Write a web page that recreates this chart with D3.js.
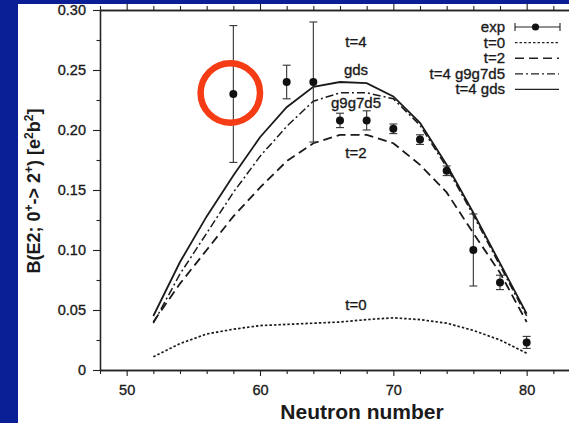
<!DOCTYPE html>
<html>
<head>
<meta charset="utf-8">
<script src="https://cdn.jsdelivr.net/npm/d3@7"></script>
<style>
  html, body { margin: 0; padding: 0; background: #0a1e96; }
  svg { display: block; }
  text { font-family: "Liberation Sans", Arial, Helvetica, sans-serif; fill: #1a1a1a; }
  .heavy { stroke: #1a1a1a; stroke-width: 0.35px; }
</style>
</head>
<body>
<script>
// Shell-model curves, evaluated at even neutron numbers
const neutrons = [52, 54, 56, 58, 60, 62, 64, 66, 68, 70, 72, 74, 76, 78, 80];
const t0      = [0.011, 0.022, 0.030, 0.034, 0.037, 0.038, 0.039, 0.040, 0.042, 0.0435, 0.042, 0.039, 0.033, 0.025, 0.014];
const t2      = [0.040, 0.072, 0.100, 0.128, 0.152, 0.174, 0.189, 0.196, 0.196, 0.189, 0.171, 0.148, 0.114, 0.081, 0.040];
const t4g9g7d5 = [0.039, 0.080, 0.114, 0.148, 0.178, 0.203, 0.224, 0.231, 0.231, 0.226, 0.204, 0.169, 0.129, 0.087, 0.045];
const t4gds   = [0.045, 0.090, 0.128, 0.162, 0.194, 0.219, 0.236, 0.240, 0.239, 0.228, 0.206, 0.171, 0.131, 0.089, 0.047];

// Measured B(E2) values with uncertainties
const expN   = [58, 62, 64, 66, 68, 70, 72, 74, 76, 78, 80];
const expB   = [0.230, 0.240, 0.240, 0.208, 0.208, 0.201, 0.192, 0.166, 0.100, 0.073, 0.023];
const expErr = [0.057, 0.014, 0.050, 0.006, 0.008, 0.004, 0.004, 0.004, 0.030, 0.006, 0.005];

// Axis ticks
const xMajorTicks = [50, 60, 70, 80];
const xMinorTicks = [48, 52, 54, 56, 58, 62, 64, 66, 68, 72, 74, 76, 78, 82, 84];
const yMajorTicks = [0, 0.05, 0.10, 0.15, 0.20, 0.25, 0.30];
const yTickLabels = ["0", "0.05", "0.10", "0.15", "0.20", "0.25", "0.30"];
const yMinorTicks = [0.025, 0.075, 0.125, 0.175, 0.225, 0.275];

// Highlighted measurement
const highlightN = 58;

const W = 569, H = 423;
const svg = d3.select("body").append("svg").attr("width", W).attr("height", H);

// white panel over the blue backdrop
svg.append("rect").attr("x", 18).attr("y", 4).attr("width", W - 18).attr("height", H - 4).attr("fill", "#ffffff");

const x = d3.scaleLinear().domain([48, 84]).range([100, 580]);
const y = d3.scaleLinear().domain([0, 0.30]).range([370, 10]);

const axisColor = "#222";

// bottom axis
const gB = svg.append("g").attr("transform", `translate(0,${y(0)})`);
gB.call(d3.axisBottom(x).tickValues(xMajorTicks).tickSize(6).tickSizeOuter(0).tickPadding(9));
gB.append("g").call(d3.axisBottom(x).tickValues(xMinorTicks).tickSize(4).tickSizeOuter(0).tickFormat(""));

// top axis
const gT = svg.append("g").attr("transform", `translate(0,${y(0.30)})`);
gT.call(d3.axisTop(x).tickValues(xMajorTicks).tickSize(6.5).tickSizeOuter(0).tickFormat(""));
gT.append("g").call(d3.axisTop(x).tickValues(xMinorTicks).tickSize(4).tickSizeOuter(0).tickFormat(""));

// left axis
const gL = svg.append("g").attr("transform", `translate(${x(48)},0)`);
gL.call(d3.axisLeft(y).tickValues(yMajorTicks).tickSize(7).tickSizeOuter(0).tickPadding(7)
  .tickFormat((d, i) => yTickLabels[i]));
gL.append("g").call(d3.axisLeft(y).tickValues(yMinorTicks).tickSize(3.5).tickSizeOuter(0).tickFormat(""));

svg.selectAll(".domain").attr("stroke", axisColor).attr("stroke-width", 1.3);
svg.selectAll(".tick line").attr("stroke", axisColor).attr("stroke-width", 1.1);
svg.selectAll(".tick text").attr("font-size", 14.5).attr("fill", "#1a1a1a").attr("class", "heavy")
  .attr("font-family", "'Liberation Sans', Arial, sans-serif");

// theory curves
const series = [
  { name: "t=0",         values: t0,       dash: "2.5,2",     width: 1.7 },
  { name: "t=2",         values: t2,       dash: "9,5",       width: 1.8 },
  { name: "t=4 g9g7d5",  values: t4g9g7d5, dash: "8,3,2,3",   width: 1.5 },
  { name: "t=4 gds",     values: t4gds,    dash: null,        width: 1.8 }
];

const line = d3.line().x(d => x(d[0])).y(d => y(d[1]));
series.forEach(s => {
  svg.append("path")
    .datum(neutrons.map((n, i) => [n, s.values[i]]))
    .attr("d", line)
    .attr("fill", "none")
    .attr("stroke", "#1a1a1a")
    .attr("stroke-width", s.width)
    .attr("stroke-dasharray", s.dash);
});

// experimental points with error bars
const exp = expN.map((n, i) => ({ n, b: expB[i], e: expErr[i] }));
const gE = svg.append("g");
const pt = gE.selectAll("g").data(exp).join("g");
pt.append("line")
  .attr("x1", d => x(d.n)).attr("x2", d => x(d.n))
  .attr("y1", d => y(d.b + d.e)).attr("y2", d => y(d.b - d.e))
  .attr("stroke", "#333").attr("stroke-width", 1.1);
pt.selectAll(".cap").data(d => [[d.n, d.b + d.e], [d.n, d.b - d.e]]).join("line")
  .attr("x1", d => x(d[0]) - 4).attr("x2", d => x(d[0]) + 4)
  .attr("y1", d => y(d[1])).attr("y2", d => y(d[1]))
  .attr("stroke", "#333").attr("stroke-width", 1.1);
pt.append("circle")
  .attr("cx", d => x(d.n)).attr("cy", d => y(d.b)).attr("r", 4)
  .attr("fill", "#111");

// curve labels
const notes = [
  { t: "t=4",    n: 67.2, v: 0.2695 },
  { t: "gds",    n: 67.2, v: 0.2455 },
  { t: "g9g7d5", n: 67.2, v: 0.2185 },
  { t: "t=2",    n: 67.2, v: 0.1768 },
  { t: "t=0",    n: 67.2, v: 0.0502 }
];
svg.selectAll(".note").data(notes).join("text")
  .attr("x", d => x(d.n)).attr("y", d => y(d.v))
  .attr("text-anchor", "middle").attr("font-size", 15).attr("class", "heavy")
  .text(d => d.t);

// legend
const lgX = 505, lgSym0 = 515, lgSym1 = 560;
const legendRows = [{ name: "exp" }].concat(series);
legendRows.forEach((r, i) => {
  const cy = 27 + i * 15.6;
  svg.append("text").attr("x", lgX).attr("y", cy + 5).attr("class", "heavy")
    .attr("text-anchor", "end").attr("font-size", 15).text(r.name);
  if (r.name === "exp") {
    svg.append("line").attr("x1", lgSym0).attr("x2", lgSym1).attr("y1", cy).attr("y2", cy)
      .attr("stroke", "#222").attr("stroke-width", 1.1);
    [lgSym0, lgSym1].forEach(cx => svg.append("line").attr("x1", cx).attr("x2", cx)
      .attr("y1", cy - 4).attr("y2", cy + 4).attr("stroke", "#222").attr("stroke-width", 1.1));
    svg.append("circle").attr("cx", (lgSym0 + lgSym1) / 2 - 2).attr("cy", cy).attr("r", 3.6).attr("fill", "#111");
  } else {
    svg.append("line").attr("x1", lgSym0).attr("x2", lgSym1 - 1).attr("y1", cy).attr("y2", cy)
      .attr("stroke", "#222").attr("stroke-width", r.width * 0.8)
      .attr("stroke-dasharray", r.dash);
  }
});

// axis titles
svg.append("text").attr("x", 362).attr("y", 419)
  .attr("text-anchor", "middle").attr("font-size", 21).attr("font-weight", "bold")
  .text("Neutron number");

const yt = svg.append("text")
  .attr("transform", "translate(40,191) rotate(-90)")
  .attr("text-anchor", "middle").attr("font-size", 18).attr("font-weight", "bold");
const parts = [["B(E2; 0", false], ["+", true], ["-> 2", false], ["+", true], [") [e", false], ["2", true], ["b", false], ["2", true], ["]", false]];
parts.forEach(([s, sup], i) => {
  const ts = yt.append("tspan").text(s);
  if (sup) ts.attr("font-size", 12).attr("dy", -7);
  else ts.attr("dy", i > 0 && parts[i - 1][1] ? 7 : 0);
});

// highlight ring around the N=58 measurement
const hi = exp.find(d => d.n === highlightN);
svg.append("circle")
  .attr("cx", x(hi.n) - 3).attr("cy", y(hi.b) - 1).attr("r", 29.7)
  .attr("fill", "none").attr("stroke", "#f53c14").attr("stroke-width", 6.5);
</script>
</body>
</html>
